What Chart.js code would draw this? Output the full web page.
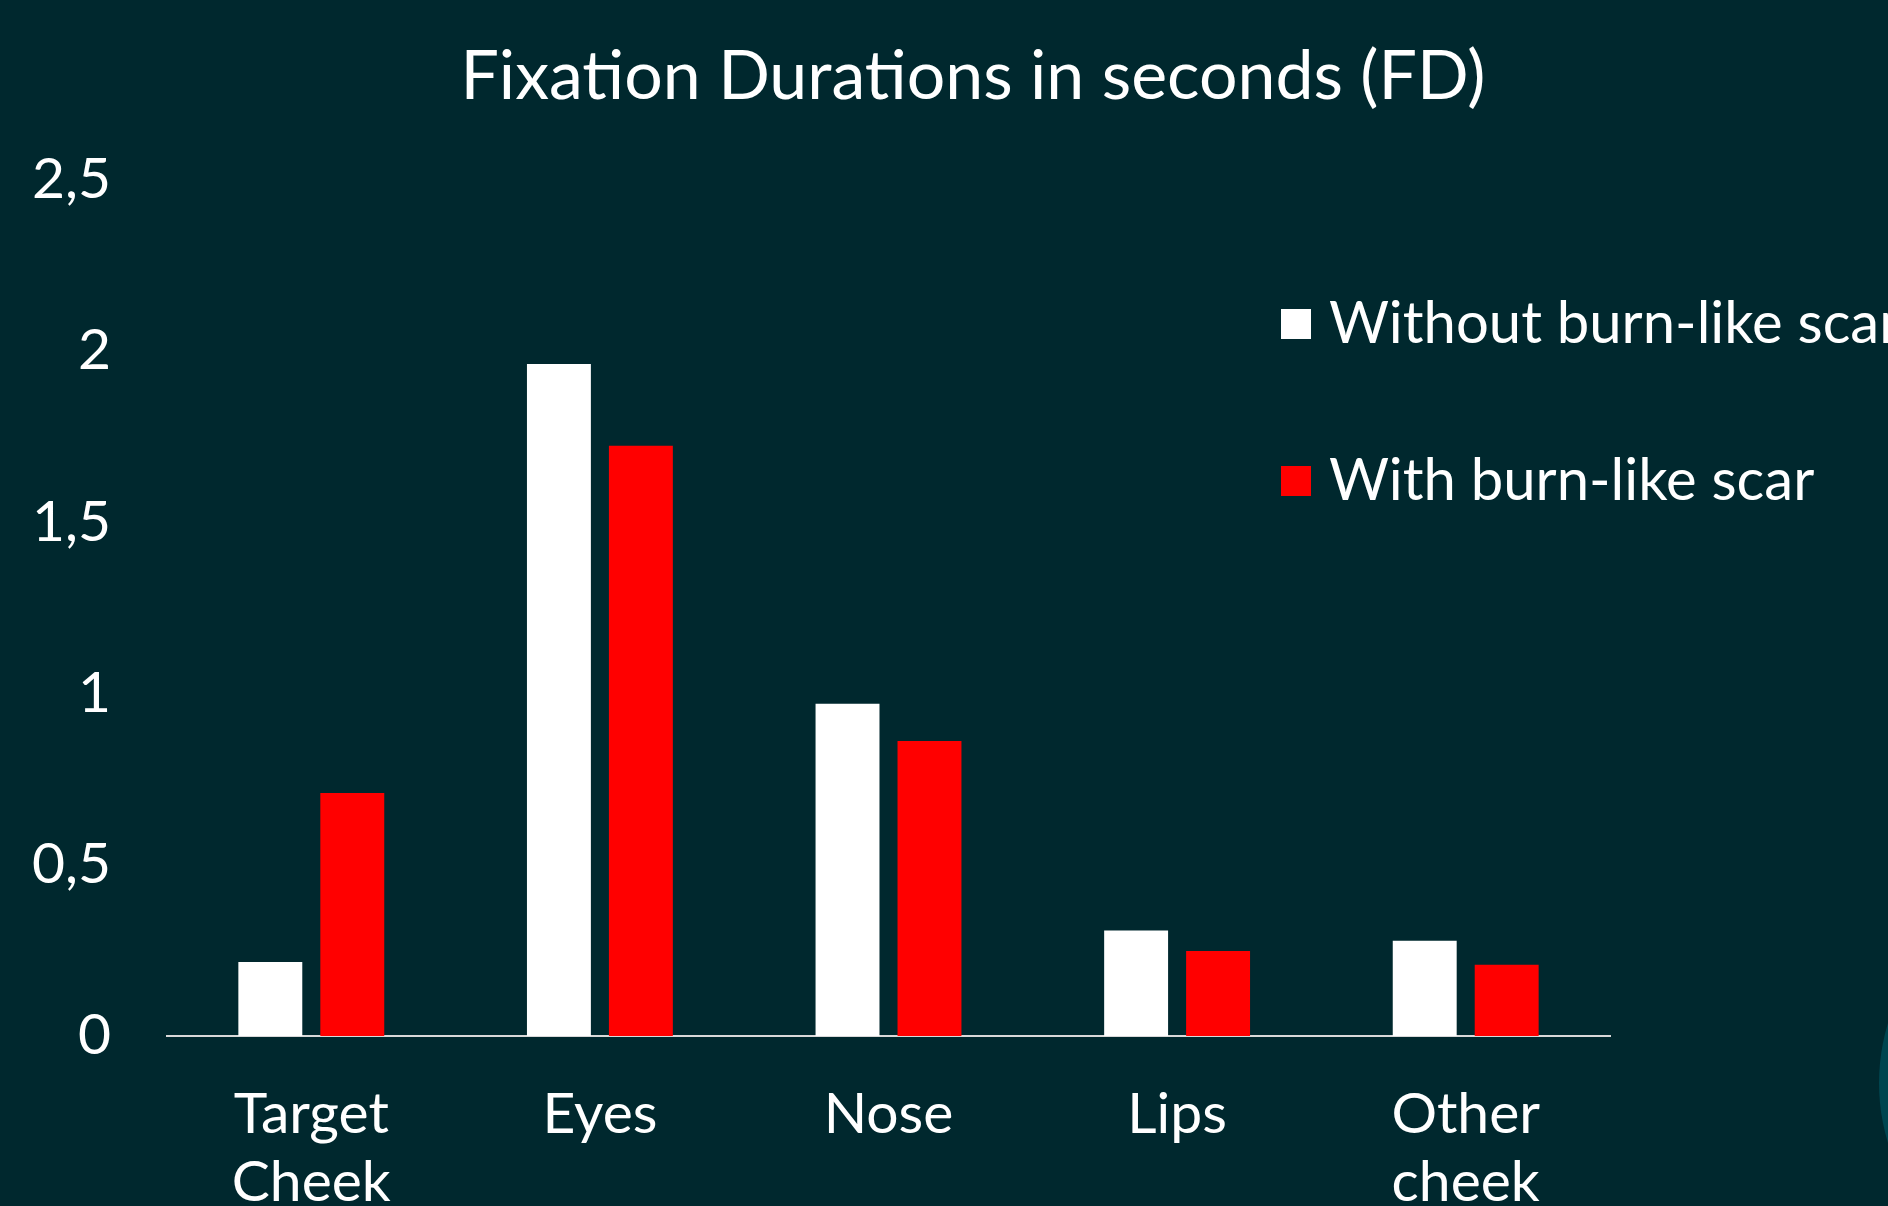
<!DOCTYPE html>
<html>
<head>
<meta charset="utf-8">
<script src="https://cdn.jsdelivr.net/npm/chart.js@4.4.1/dist/chart.umd.min.js"></script>
<style>
  html, body { margin: 0; padding: 0; background: #00282e; overflow: hidden; }
  #wrap { position: relative; width: 1888px; height: 1206px; overflow: hidden; }
  #deco { position: absolute; left: 1879px; top: 879px; width: 408px; height: 408px; border-radius: 50%; background: #00454f; }
  canvas { position: absolute; left: 0; top: 0; }
</style>
</head>
<body>
<div id="wrap">
  <div id="deco"></div>
  <!-- canvas runs a little past the right edge so the title centres where the slide has it -->
  <canvas id="chart-fd" width="1946" height="1206"></canvas>
</div>
<script>
const categories = [['Target', 'Cheek'], 'Eyes', 'Nose', 'Lips', ['Other', 'cheek']];
const seriesNames = ['Without burn-like scar', 'With burn-like scar'];
const withoutScar = [0.216, 1.962, 0.970, 0.308, 0.278];
const withScar = [0.709, 1.723, 0.861, 0.248, 0.208];
const yTicks = [0, 0.5, 1, 1.5, 2, 2.5];

const FONT = "'Lato', sans-serif";
Chart.defaults.font.family = FONT;
Chart.defaults.color = '#ffffff';

// legend sits inside the plot, to the right, like the slide
const sideLegend = {
  id: 'sideLegend',
  afterDraw(chart) {
    const { ctx } = chart;
    ctx.save();
    ctx.font = '58px ' + FONT;
    ctx.textBaseline = 'middle';
    chart.data.datasets.forEach((ds, i) => {
      const y = 324 + i * 157;
      ctx.fillStyle = ds.backgroundColor;
      ctx.fillRect(1281, y - 15, 30, 30);
      ctx.fillStyle = '#ffffff';
      ctx.fillText(ds.label, 1329, y);
    });
    ctx.restore();
  }
};

new Chart(document.getElementById('chart-fd'), {
  type: 'bar',
  data: {
    labels: categories,
    datasets: [
      { label: seriesNames[0], data: withoutScar, backgroundColor: '#ffffff' },
      { label: seriesNames[1], data: withScar, backgroundColor: '#ff0000' }
    ]
  },
  options: {
    responsive: false,
    animation: false,
    categoryPercentage: 0.568,
    barPercentage: 0.78,
    layout: { padding: 0 },
    plugins: {
      legend: { display: false },
      title: {
        display: true,
        text: 'Fixation Durations in seconds (FD)',
        color: '#ffffff',
        font: { size: 68, weight: 'normal' },
        padding: { top: 36, bottom: 62 }
      }
    },
    scales: {
      x: {
        grid: { display: false, drawTicks: false },
        border: { display: true, color: '#d9d9d9', width: 2 },
        ticks: { color: '#ffffff', font: { size: 57 }, padding: 44, maxRotation: 0 },
        afterFit: (s) => { s.height = 170; }
      },
      y: {
        min: 0,
        max: 2.5,
        grid: { display: false, drawTicks: false },
        border: { display: false },
        afterBuildTicks: (s) => { s.ticks = yTicks.map(v => ({ value: v })); },
        ticks: {
          color: '#ffffff',
          font: { size: 57 },
          padding: 56,
          callback: (v) => String(v).replace('.', ',')
        },
        afterFit: (s) => { s.width = 167; }
      },
      // empty strip that keeps the plot clear of the right margin
      yPad: {
        position: 'right',
        grid: { display: false },
        border: { display: false },
        ticks: { display: false },
        afterFit: (s) => { s.width = 336; }
      }
    }
  },
  plugins: [sideLegend]
});
</script>
</body>
</html>
